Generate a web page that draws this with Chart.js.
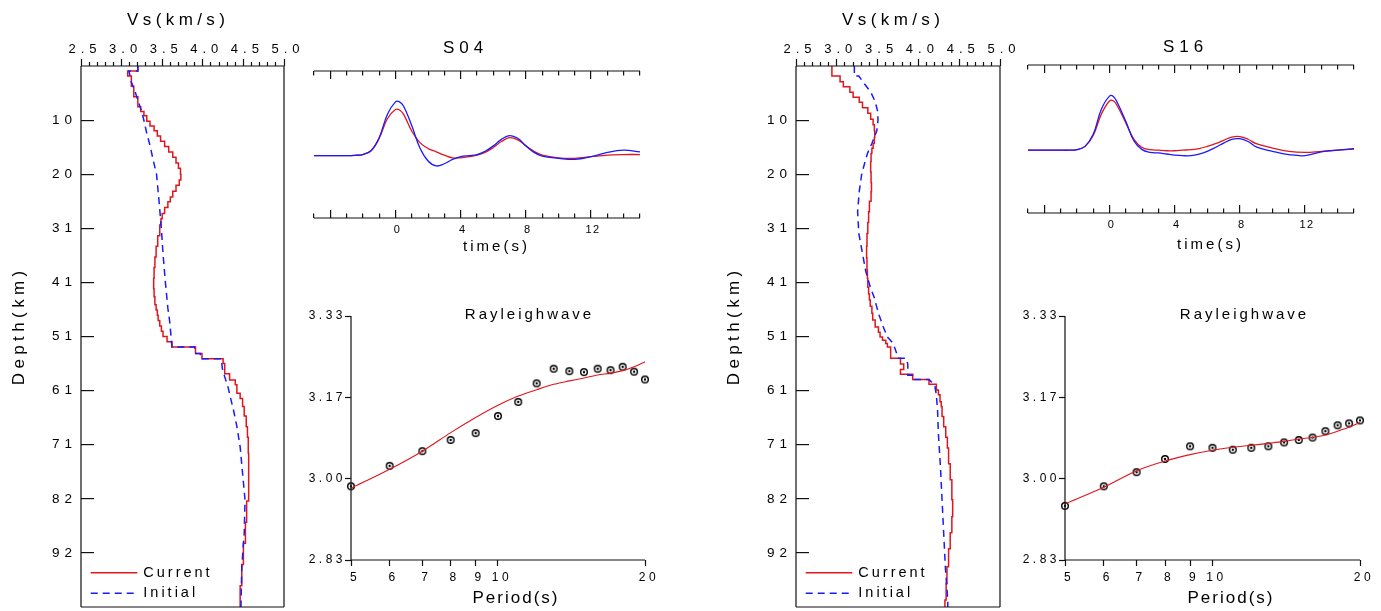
<!DOCTYPE html>
<html lang="en">
<head>
<meta charset="UTF-8" />
<title>Vs inversion: S04 / S16</title>
<script src="https://cdn.jsdelivr.net/npm/chart.js"></script>
<style>
  body { margin: 0; background: #fff; }
  #fig { position: relative; width: 1381px; height: 611px; overflow: hidden; background: #fff; }
  #fig canvas { position: absolute; }
</style>
</head>
<body>
<div id="fig">
  <canvas id="s04Profile" width="300" height="611" style="left:0;top:0"></canvas>
  <canvas id="s04Wave" width="360" height="240" style="left:300px;top:25px"></canvas>
  <canvas id="s04Disp" width="370" height="321" style="left:300px;top:290px"></canvas>
  <canvas id="s16Profile" width="300" height="611" style="left:715px;top:0"></canvas>
  <canvas id="s16Wave" width="371" height="240" style="left:1010px;top:20px"></canvas>
  <canvas id="s16Disp" width="371" height="321" style="left:1010px;top:290px"></canvas>
</div>
<script>
// velocity models: layer top depth (km) and Vs (km/s)
const s04CurDepth = [0, 0.94, 1.9, 3.8, 5.8, 7.7, 8.6, 9.4, 10.4, 11.3, 12.2, 13.2, 14.2, 15.2, 16.2, 17.2, 18.3, 19.3, 20.4, 21.5,
  22.5, 23.6, 24.7, 25.6, 26.7, 27.8, 28.8, 30, 32, 34, 36, 38, 40, 42, 43.5, 45, 46, 47, 48, 49,
  50, 51, 52, 53.0, 54.2, 55.2, 56.1, 58.0, 59.2, 60.1, 61.7, 62.7, 64.2, 66, 68, 70, 73, 78, 82, 86, 90, 94, 98, 102];
const s04CurVs = [3.20, 3.075, 3.12, 3.15, 3.20, 3.235, 3.275, 3.31, 3.35, 3.40, 3.44, 3.48, 3.53, 3.58, 3.63, 3.67, 3.70, 3.725, 3.73, 3.71,
  3.67, 3.63, 3.60, 3.57, 3.53, 3.50, 3.485, 3.47, 3.445, 3.425, 3.41, 3.40, 3.395, 3.40, 3.41, 3.425, 3.44, 3.45, 3.47, 3.49,
  3.51, 3.56, 3.62, 3.91, 3.99, 4.25, 4.27, 4.33, 4.40, 4.42, 4.46, 4.49, 4.51, 4.535, 4.55, 4.56, 4.565, 4.565, 4.54, 4.525, 4.50, 4.48, 4.46, 4.46];
const s04InitDepth = [0, 0.95, 0.95, 3.0, 4.8, 6.9, 8.7, 10.6, 12.7, 15.0, 17.8, 20.4, 25.3, 30.7, 35.4, 40.9, 45.7, 47.9, 51.1, 53.0,
  53.0, 54.2, 54.2, 55.2, 55.2, 57.0, 58.6, 60.5, 62.5, 65.0, 68.0, 71.8, 76.8, 81.8, 88.1, 94.4, 102];
const s04InitVs = [3.20, 3.20, 3.09, 3.12, 3.165, 3.21, 3.25, 3.28, 3.31, 3.35, 3.39, 3.43, 3.46, 3.49, 3.51, 3.54, 3.57, 3.59, 3.61, 3.62,
  3.90, 3.90, 3.97, 3.97, 4.23, 4.24, 4.27, 4.31, 4.34, 4.38, 4.42, 4.46, 4.49, 4.52, 4.51, 4.48, 4.47];

const s16CurDepth = [0, 1.9, 2.95, 3.9, 4.96, 5.9, 6.85, 7.85, 8.9, 10.05, 11.1, 12.2, 13.5, 14.6, 15.5, 16.5, 18, 20, 22, 23.7,
  25.5, 27.5, 29.5, 31.6, 34, 36.2, 38.5, 40, 41.7, 43, 44.1, 45.3, 46.6, 47.9, 49.2, 50.2, 51.1, 51.7, 52.3, 53.0,
  55.1, 56.2, 57.2, 58.1, 59.1, 60.0, 61.1, 62.0, 63.3, 64.2, 66.1, 68, 70, 72, 75, 78, 81.8, 85, 88, 91, 94.4, 97.5, 100.7, 102];
const s16CurVs = [2.94, 3.04, 3.08, 3.16, 3.20, 3.275, 3.315, 3.38, 3.415, 3.445, 3.46, 3.465, 3.46, 3.445, 3.43, 3.42, 3.415, 3.42, 3.425, 3.42,
  3.40, 3.39, 3.38, 3.37, 3.365, 3.37, 3.375, 3.38, 3.39, 3.40, 3.41, 3.43, 3.44, 3.47, 3.51, 3.53, 3.56, 3.60, 3.62, 3.66,
  3.78, 3.82, 3.78, 3.93, 4.13, 4.22, 4.245, 4.265, 4.28, 4.29, 4.31, 4.335, 4.355, 4.37, 4.39, 4.41, 4.42, 4.41, 4.39, 4.37, 4.35, 4.34, 4.325, 4.325];
const s16InitDepth = [0, 1.9, 1.9, 3.5, 4.9, 6.7, 8.5, 10.2, 12.2, 14.6, 16.5, 18.4, 20.4, 23.7, 27.5, 31.6, 33.7, 36.2, 38.7, 41.7,
  43.7, 46.6, 49.2, 51.1, 52.3, 54.0, 55.1, 55.1, 56.2, 58.3, 58.3, 59.1, 59.1, 60.2, 62, 65, 69.3, 75.5, 81.8, 88.1, 94.4, 100.7, 102];
const s16InitVs = [3.215, 3.215, 3.27, 3.345, 3.415, 3.47, 3.50, 3.505, 3.49, 3.43, 3.375, 3.34, 3.305, 3.275, 3.255, 3.27, 3.295, 3.325, 3.355, 3.41,
  3.46, 3.51, 3.57, 3.62, 3.69, 3.73, 3.75, 3.85, 3.87, 3.87, 3.95, 3.95, 4.13, 4.20, 4.22, 4.235, 4.245, 4.27, 4.29, 4.31, 4.33, 4.36, 4.36];

// receiver function traces (normalised amplitude)
const rfTime = [-5, -4, -3, -2.5, -2, -1.5, -1, -0.5, 0, 0.25, 0.5, 1, 1.5, 2, 2.5, 3, 3.5, 4, 4.5, 5,
  5.5, 6, 6.5, 7, 7.5, 8, 8.5, 9, 10, 11, 12, 13, 14, 15];
const s04RfRed = [0, 0, 0, 0.005, 0.02, 0.09, 0.32, 0.68, 0.85, 0.84, 0.76, 0.45, 0.24, 0.13, 0.07, 0.01, -0.04, -0.04, -0.02, 0.01,
  0.06, 0.15, 0.26, 0.33, 0.29, 0.18, 0.08, 0.01, -0.04, -0.05, -0.02, 0.01, 0.02, 0.02];
const s04RfBlue = [0, 0, 0, 0.005, 0.02, 0.09, 0.33, 0.76, 0.99, 0.99, 0.91, 0.55, 0.14, -0.10, -0.19, -0.15, -0.07, -0.02, 0.0, 0.02,
  0.08, 0.18, 0.30, 0.37, 0.32, 0.18, 0.06, -0.01, -0.05, -0.07, -0.02, 0.06, 0.10, 0.07];
const s16RfRed = [0, 0, 0, 0, 0.01, 0.07, 0.27, 0.66, 0.90, 0.90, 0.80, 0.50, 0.20, 0.05, 0.01, 0.0, -0.01, -0.01, 0.0, 0.01,
  0.03, 0.07, 0.12, 0.18, 0.24, 0.25, 0.20, 0.12, 0.04, -0.02, -0.04, -0.02, 0.0, 0.02];
const s16RfBlue = [0, 0, 0, 0, 0.01, 0.07, 0.29, 0.75, 0.99, 0.98, 0.86, 0.53, 0.17, 0.01, -0.04, -0.05, -0.07, -0.09, -0.10, -0.10,
  -0.07, -0.02, 0.05, 0.13, 0.20, 0.21, 0.16, 0.06, -0.02, -0.08, -0.10, -0.03, 0.0, 0.03];

// Rayleigh wave phase velocity (km/s) per period (s)
const periods = [5, 6, 7, 8, 9, 10, 11, 12, 13, 14, 15, 16, 17, 18, 19, 20];
const s04Obs = [2.985, 3.027, 3.057, 3.080, 3.094, 3.129, 3.158, 3.196, 3.226, 3.221, 3.219, 3.226, 3.223, 3.230, 3.220, 3.204];
const s04Pred = [2.981, 3.020, 3.057, 3.095, 3.126, 3.151, 3.170, 3.183, 3.194, 3.201, 3.207, 3.213, 3.217, 3.222, 3.230, 3.240];
const s16Obs = [2.945, 2.985, 3.014, 3.041, 3.067, 3.064, 3.060, 3.064, 3.067, 3.075, 3.080, 3.085, 3.098, 3.110, 3.114, 3.120];
const s16Pred = [2.949, 2.983, 3.017, 3.037, 3.050, 3.059, 3.065, 3.069, 3.073, 3.077, 3.082, 3.085, 3.090, 3.098, 3.106, 3.116];

// axis ticks
const vsMajor = [2.5, 3.0, 3.5, 4.0, 4.5, 5.0];
const depthTicks = [10.2, 20.4, 30.6, 40.8, 51, 61.2, 71.4, 81.6, 91.8];
const depthLabels = ['10', '20', '31', '41', '51', '61', '71', '82', '92'];
const timeLabels = [0, 4, 8, 12];
const periodTicks = [5, 6, 7, 8, 9, 10, 20];
const dispTicks = [2.834, 3.0007, 3.1673, 3.334];
const dispLabels = ['2.83', '3.00', '3.17', '3.33'];

const FONT = '"Liberation Sans", Arial, Helvetica, sans-serif';
const RED = '#e0161e';
const BLUE = '#1a1aff';
const INK = '#000';
Chart.defaults.font.family = FONT;
Chart.defaults.color = INK;

const pairs = (xs, ys) => xs.map((x, i) => ({ x: x, y: ys[i] }));
const isMajorVs = v => vsMajor.some(m => Math.abs(m - v) < 1e-6);

// force an axis to a fixed thickness so the plot boxes line up
const fixSize = n => s => {
  if (s.isHorizontal()) s.height = n; else s.width = n;
  s.paddingLeft = s.paddingRight = s.paddingTop = s.paddingBottom = 0;
};

// open circle with a centre dot for observed dispersion points
const ring = document.createElement('canvas');
ring.width = 10; ring.height = 10;
(() => {
  const c = ring.getContext('2d');
  c.strokeStyle = '#000'; c.lineWidth = 1.4;
  c.beginPath(); c.arc(5, 5, 3.3, 0, Math.PI * 2); c.stroke();
  c.fillStyle = '#000';
  c.beginPath(); c.arc(5, 5, 1.2, 0, Math.PI * 2); c.fill();
})();

// frame lines, legend, titles and letter spacing
const decor = {
  id: 'decor',
  beforeDraw(chart, args, o) {
    chart.ctx.letterSpacing = (o.tickSpacing || 0) + 'px';
  },
  afterDraw(chart, args, o) {
    const { ctx, chartArea: a } = chart;
    ctx.save();
    ctx.setLineDash([]);
    ctx.strokeStyle = '#111';
    ctx.lineWidth = 1.2;
    const sides = o.sides || [];
    ctx.beginPath();
    if (sides.includes('top')) { ctx.moveTo(a.left, a.top); ctx.lineTo(a.right, a.top); }
    if (sides.includes('bottom')) { ctx.moveTo(a.left, a.bottom); ctx.lineTo(a.right, a.bottom); }
    if (sides.includes('left')) { ctx.moveTo(a.left, a.top); ctx.lineTo(a.left, a.bottom); }
    if (sides.includes('right')) { ctx.moveTo(a.right, a.top); ctx.lineTo(a.right, a.bottom); }
    ctx.stroke();

    const lg = o.legend;
    if (lg) {
      ctx.font = lg.size + 'px ' + FONT;
      ctx.letterSpacing = lg.spacing + 'px';
      ctx.textAlign = 'left';
      ctx.textBaseline = 'middle';
      ctx.fillStyle = INK;
      chart.data.datasets.forEach((ds, i) => {
        const y = a.bottom - lg.rows[i];
        ctx.strokeStyle = ds.borderColor;
        ctx.lineWidth = ds.borderWidth;
        ctx.setLineDash(ds.borderDash || []);
        ctx.beginPath();
        ctx.moveTo(a.left + lg.x0, y);
        ctx.lineTo(a.left + lg.x1, y);
        ctx.stroke();
        ctx.fillText(ds.label, a.left + lg.tx, y);
      });
    }

    (o.texts || []).forEach(t => {
      const sp = t.spacing || 0;
      ctx.save();
      ctx.font = t.size + 'px ' + FONT;
      ctx.letterSpacing = sp + 'px';
      ctx.textAlign = 'center';
      ctx.textBaseline = 'middle';
      ctx.fillStyle = INK;
      ctx.translate(t.x, t.y);
      if (t.rotate) ctx.rotate(t.rotate * Math.PI / 180);
      ctx.fillText(t.text, sp / 2, 0);
      ctx.restore();
    });
    ctx.restore();
  }
};

const common = { responsive: false, animation: false, events: [], devicePixelRatio: 1 };
const quiet = { legend: { display: false }, tooltip: { enabled: false } };

function profileChart(id, curDepth, curVs, initDepth, initVs, padRight) {
  return new Chart(document.getElementById(id), {
    type: 'line',
    data: {
      datasets: [
        { label: 'Current', data: pairs(curVs, curDepth), stepped: 'after', borderColor: RED, borderWidth: 1.5, pointRadius: 0, order: 1 },
        { label: 'Initial', data: pairs(initVs, initDepth), borderColor: BLUE, borderWidth: 1.5, borderDash: [7, 5], pointRadius: 0, order: 0 }
      ]
    },
    options: {
      ...common,
      layout: { autoPadding: false, padding: { left: 0, top: 0, right: padRight, bottom: 4 } },
      scales: {
        x: {
          type: 'linear', position: 'top', min: 2.5, max: 5, afterFit: fixSize(66),
          ticks: { stepSize: 0.1, autoSkip: false, maxRotation: 0, padding: 2, labelOffset: 4, font: { size: 13 }, color: INK,
            callback: v => isMajorVs(v) ? v.toFixed(1) : '' },
          grid: { drawOnChartArea: false, tickLength: 7, tickColor: '#111', tickWidth: 1.2,
            tickBorderDash: c => (c.tick && isMajorVs(c.tick.value)) ? [] : [0, 3, 4, 20] },
          border: { display: false }
        },
        y: {
          type: 'linear', reverse: true, min: 0, max: 102, afterFit: fixSize(81),
          afterBuildTicks: s => { s.ticks = depthTicks.map(v => ({ value: v })); },
          ticks: { padding: 4, font: { size: 13.5 }, color: INK, callback: (v, i) => depthLabels[i] },
          grid: { drawTicks: false, color: '#111', lineWidth: 1.2 },
          border: { display: false, dash: [13, 1000] }
        }
      },
      plugins: {
        ...quiet,
        decor: {
          tickSpacing: 5,
          sides: ['top', 'right', 'bottom', 'left'],
          legend: { x0: 9.7, x1: 56.3, tx: 62.3, rows: [34.3, 13.7], size: 14.5, spacing: 3 },
          texts: [
            { text: 'Vs(km/s)', x: 176, y: 20, size: 17, spacing: 4.4 },
            { text: 'Depth(km)', x: 19, y: 328, size: 17, spacing: 4.4, rotate: -90 }
          ]
        }
      }
    },
    plugins: [decor]
  });
}

function waveChart(id, red, blue, box, texts) {
  return new Chart(document.getElementById(id), {
    type: 'line',
    data: {
      datasets: [
        { data: pairs(rfTime, blue), borderColor: BLUE, borderWidth: 1.3, pointRadius: 0, tension: 0.4, order: 0 },
        { data: pairs(rfTime, red), borderColor: RED, borderWidth: 1.3, pointRadius: 0, tension: 0.4, order: 1 }
      ]
    },
    options: {
      ...common,
      layout: { autoPadding: false, padding: { left: box.left, top: box.top, right: box.right, bottom: 0 } },
      scales: {
        x: {
          type: 'linear', min: -5, max: 15, afterFit: fixSize(box.axis),
          ticks: { stepSize: 1, autoSkip: false, maxRotation: 0, padding: 5, labelOffset: 2, font: { size: 11 }, color: INK,
            callback: v => timeLabels.includes(v) ? String(v) : '' },
          grid: { drawTicks: false, color: '#111', lineWidth: 1.2 },
          // inward tick marks at both the top and bottom edges
          border: {
            display: false,
            dash: c => {
              if (!c.tick) return [];
              const h = c.chart.chartArea.height;
              const len = c.tick.value % 4 === 0 ? 8 : 4.5;
              return [len, h - 2 * len, len, 1000];
            }
          }
        },
        y: { type: 'linear', display: false, min: -1.15, max: 1.56 }
      },
      plugins: { ...quiet, decor: { tickSpacing: 1.5, sides: ['top', 'bottom'], texts: texts } }
    },
    plugins: [decor]
  });
}

function dispChart(id, obs, pred, box, texts) {
  return new Chart(document.getElementById(id), {
    type: 'line',
    data: {
      datasets: [
        { data: pairs(periods, pred), borderColor: RED, borderWidth: 1.1, pointRadius: 0, tension: 0.3 },
        { data: pairs(periods, obs), showLine: false, pointStyle: ring, pointRadius: 3.5, clip: 8 }
      ]
    },
    options: {
      ...common,
      layout: { autoPadding: false, padding: { left: 0, top: box.top, right: box.right, bottom: 0 } },
      scales: {
        x: {
          type: 'logarithmic', min: 5, max: 20, afterFit: fixSize(box.axis),
          afterBuildTicks: s => { s.ticks = periodTicks.map(v => ({ value: v })); },
          ticks: { autoSkip: false, maxRotation: 0, padding: 4, labelOffset: 4, font: { size: 12 }, color: INK, callback: v => String(v) },
          grid: { drawOnChartArea: false, tickLength: 6, tickColor: '#111', tickWidth: 1.2 },
          border: { display: false }
        },
        y: {
          type: 'linear', min: 2.834, max: 3.334, afterFit: fixSize(box.left),
          afterBuildTicks: s => { s.ticks = dispTicks.map(v => ({ value: v })); },
          ticks: { padding: -1, font: { size: 12 }, color: INK, callback: (v, i) => dispLabels[i] },
          grid: { drawOnChartArea: false, tickLength: 6, tickColor: '#111', tickWidth: 1.2 },
          border: { display: false }
        }
      },
      plugins: { ...quiet, decor: { tickSpacing: 3.5, sides: ['left', 'bottom'], texts: texts } }
    },
    plugins: [decor]
  });
}

profileChart('s04Profile', s04CurDepth, s04CurVs, s04InitDepth, s04InitVs, 16);
profileChart('s16Profile', s16CurDepth, s16CurVs, s16InitDepth, s16InitVs, 15);

waveChart('s04Wave', s04RfRed, s04RfBlue, { left: 14, top: 46, right: 20, axis: 47 }, [
  { text: 'S04', x: 163, y: 23, size: 17, spacing: 5 },
  { text: 'time(s)', x: 195, y: 222, size: 15, spacing: 3 }
]);
waveChart('s16Wave', s16RfRed, s16RfBlue, { left: 18, top: 45, right: 27, axis: 47 }, [
  { text: 'S16', x: 173, y: 27, size: 17, spacing: 5 },
  { text: 'time(s)', x: 199, y: 225, size: 15, spacing: 3 }
]);

dispChart('s04Disp', s04Obs, s04Pred, { left: 51, top: 26, right: 25, axis: 51 }, [
  { text: 'Rayleighwave', x: 228, y: 25, size: 15, spacing: 3 },
  { text: 'Period(s)', x: 215, y: 308, size: 17, spacing: 2 }
]);
dispChart('s16Disp', s16Obs, s16Pred, { left: 55, top: 26, right: 21, axis: 51 }, [
  { text: 'Rayleighwave', x: 233, y: 25, size: 15, spacing: 3 },
  { text: 'Period(s)', x: 220, y: 308, size: 17, spacing: 2 }
]);
</script>
</body>
</html>
